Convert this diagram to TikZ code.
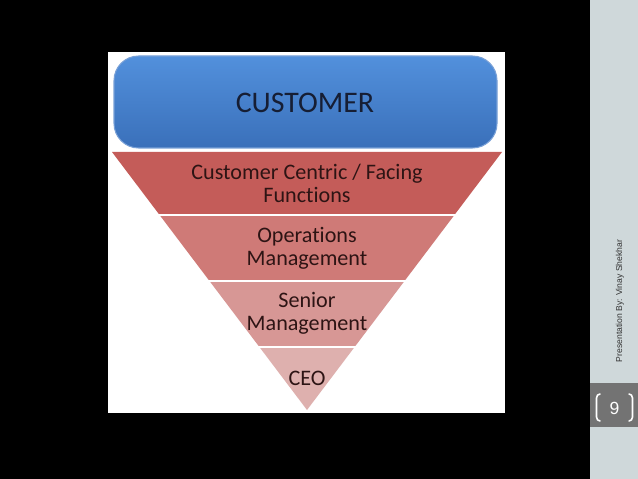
\documentclass[tikz,border=0pt]{standalone}
\usepackage{fontspec}
\setmainfont{Carlito}[Ligatures=NoCommon]
\newfontfamily\sidefont{Liberation Sans}
\usepackage{xcolor}

\definecolor{sidebg}{RGB}{207,216,218}
\definecolor{pagebox}{RGB}{115,115,115}
\definecolor{bluetop}{RGB}{82,144,220}
\definecolor{bluebot}{RGB}{58,112,186}
\definecolor{blueedge}{RGB}{120,160,215}
\definecolor{bandA}{RGB}{196,92,89}
\definecolor{bandB}{RGB}{207,122,119}
\definecolor{bandC}{RGB}{215,151,149}
\definecolor{bandD}{RGB}{222,176,174}
\definecolor{bandtext}{RGB}{45,20,20}
\definecolor{custtext}{RGB}{22,30,52}

\begin{document}
\begin{tikzpicture}[x=0.02cm,y=-0.02cm,
  bandlabel/.style={font=\fontsize{12.6}{12.8}\selectfont, text=bandtext, align=center}]

\useasboundingbox (0,0) rectangle (638,479);

% Background and side bar
\fill[black] (0,0) rectangle (590,479);
\fill[sidebg] (590,0) rectangle (638,479);
\fill[white] (108,52) rectangle (505,413);

% Customer box
\shade[top color=bluetop, bottom color=bluebot, draw=blueedge, line width=0.6pt, rounded corners=14]
  (114,56) rectangle (497,148);
\node[font=\fontsize{17}{19}\selectfont, text=custtext] (customer) at (305,103) {CUSTOMER};

% Inverted pyramid bands
\fill[bandA] (112,152) -- (502,152) -- (454.4,215) -- (159.6,215) -- cycle;
\fill[bandB] (159.6,215) -- (454.4,215) -- (404.5,281) -- (209.5,281) -- cycle;
\fill[bandC] (209.5,281) -- (404.5,281) -- (354.6,347) -- (259.4,347) -- cycle;
\fill[bandD] (259.4,347) -- (354.6,347) -- (307,410) -- cycle;

% Gaps between bands
\draw[white, line width=1.2pt] (150,215) -- (464,215);
\draw[white, line width=1.2pt] (200,281) -- (414,281);
\draw[white, line width=1.2pt] (250,347) -- (364,347);

% Band labels
\node[bandlabel] (facing) at (307,183.5) {Customer Centric / Facing\\Functions};
\node[bandlabel] (ops) at (307,248.5) {Operations\\Management};
\node[bandlabel] (senior) at (307,313.5) {Senior\\Management};
\node[bandlabel] (ceo) at (307,378) {CEO};

% Side bar text and page number
\node[font=\sidefont\fontsize{4.9}{6}\selectfont, text=black!80, rotate=90] (author) at (620,301) {Presentation By: Vinay Shekhar};
\fill[pagebox] (590,383) rectangle (638,427);
\draw[white, line width=0.9pt, line cap=round] (600,394) to[out=180,in=90] (596.5,398) -- (596.5,417) to[out=-90,in=180] (600,421);
\draw[white, line width=0.9pt, line cap=round] (629,394) to[out=0,in=90] (632.5,398) -- (632.5,417) to[out=-90,in=0] (629,421);
\node[font=\sidefont\fontsize{10}{12}\selectfont, text=white] (pagenum) at (614.5,408) {9};

\end{tikzpicture}
\end{document}
